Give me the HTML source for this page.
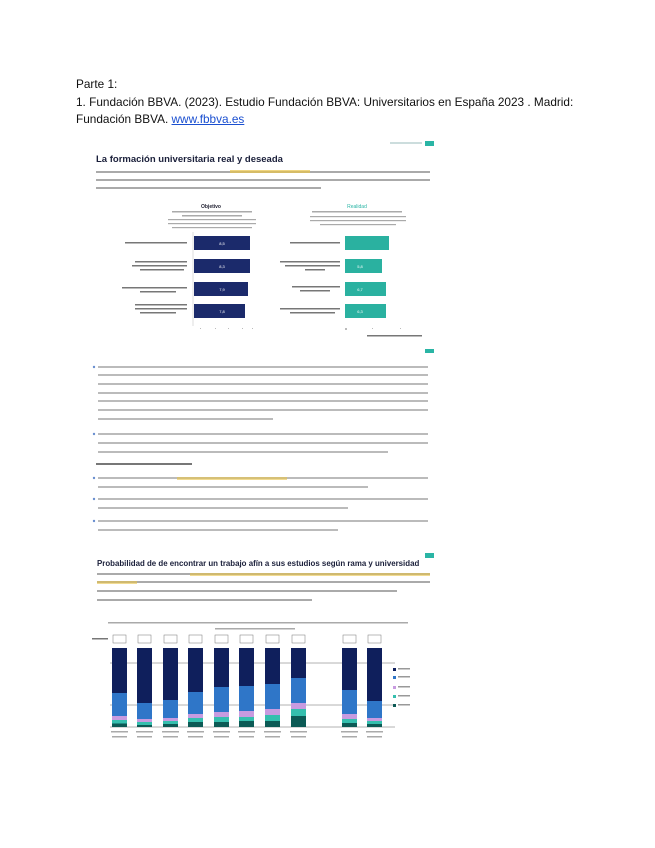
<!DOCTYPE html>
<html><head><meta charset="utf-8"><style>
body{margin:0;background:#fff;width:655px;height:848px;position:relative;overflow:hidden;font-family:"Liberation Sans",sans-serif}
.h{position:absolute;left:76px;top:76px;font-size:11.8px;line-height:17.5px;color:#111;width:570px;white-space:nowrap}
.h a{color:#1a4fd0;text-decoration:underline}
svg{position:absolute;left:0;top:0}
</style></head><body>
<div class="h">Parte 1:<br>1. Fundación BBVA. (2023). Estudio Fundación BBVA: Universitarios en España 2023 . Madrid:<br>Fundación BBVA. <a>www.fbbva.es</a></div>
<svg width="655" height="848" font-family="Liberation Sans, sans-serif">
<rect x="425" y="141" width="9" height="5" fill="#2ab5a5"/>
<rect x="390" y="142" width="32" height="2" fill="#cdd"/>
<text x="96" y="162" font-size="9.5" font-weight="bold" fill="#1a1f3a">La formación universitaria real y deseada</text>
<g fill="#aaa">
<rect x="96" y="171" width="334" height="2"/><rect x="96" y="179" width="334" height="2"/><rect x="96" y="187" width="225" height="2"/>
</g>
<rect x="230" y="170" width="80" height="3" fill="#e8c34a" opacity=".7"/>
<text x="211" y="208" font-size="5" font-weight="bold" fill="#223" text-anchor="middle">Objetivo</text>
<g fill="#aaa"><rect x="172" y="211" width="80" height="1.5"/><rect x="182" y="215" width="60" height="1.5"/><rect x="168" y="219" width="88" height="1.2"/><rect x="168" y="223" width="88" height="1.2"/><rect x="172" y="227" width="80" height="1.2"/></g>
<text x="357" y="208" font-size="5" fill="#2ab5a5" text-anchor="middle">Realidad</text>
<g fill="#aaa"><rect x="312" y="211" width="90" height="1.5"/><rect x="310" y="216" width="96" height="1.2"/><rect x="310" y="220" width="96" height="1.2"/><rect x="320" y="224" width="76" height="1.2"/></g>
<line x1="193" y1="232" x2="193" y2="326" stroke="#bbb" stroke-width=".5"/>
<g fill="#1b2a6b">
<rect x="194" y="236" width="56" height="14"/><rect x="194" y="259" width="56" height="14"/><rect x="194" y="282" width="54" height="14"/><rect x="194" y="304" width="51" height="14"/>
</g>
<g fill="#2ab1a0">
<rect x="345" y="236" width="44" height="14"/><rect x="345" y="259" width="37" height="14"/><rect x="345" y="282" width="41" height="14"/><rect x="345" y="304" width="41" height="14"/>
</g>
<g fill="#fff" font-size="4" text-anchor="middle"><text x="222" y="245">8,5</text><text x="222" y="268">8,3</text><text x="222" y="291">7,9</text><text x="222" y="313">7,8</text><text x="360" y="268">5,8</text><text x="360" y="291">6,7</text><text x="360" y="313">6,3</text></g>
<g fill="#777"><rect x="125" y="242" width="62" height="1.5"/><rect x="135" y="261" width="52" height="1.5"/><rect x="132" y="265" width="55" height="1.5"/><rect x="140" y="269" width="44" height="1.5"/><rect x="122" y="287" width="65" height="1.5"/><rect x="140" y="291" width="36" height="1.5"/><rect x="135" y="304" width="52" height="1.5"/><rect x="135" y="308" width="52" height="1.5"/><rect x="140" y="312" width="36" height="1.5"/>
<rect x="290" y="242" width="50" height="1.5"/><rect x="280" y="261" width="60" height="1.5"/><rect x="285" y="265" width="55" height="1.5"/><rect x="305" y="269" width="20" height="1.5"/><rect x="292" y="286" width="48" height="1.5"/><rect x="300" y="290" width="30" height="1.5"/><rect x="280" y="308" width="60" height="1.5"/><rect x="290" y="312" width="45" height="1.5"/></g>
<g fill="#bbb"><rect x="200" y="328" width="1" height="1"/><rect x="215" y="328" width="1" height="1"/><rect x="228" y="328" width="1" height="1"/><rect x="242" y="328" width="1" height="1"/><rect x="252" y="328" width="1" height="1"/><rect x="345" y="328" width="2" height="2"/><rect x="372" y="328" width="1" height="1"/><rect x="400" y="328" width="1" height="1"/></g>
<rect x="367" y="335" width="55" height="1.5" fill="#777"/>
<rect x="425" y="349" width="9" height="4" fill="#2ab5a5"/>
<g fill="#bbb">
<rect x="98" y="366" width="330" height="2"/><rect x="98" y="374" width="330" height="2"/><rect x="98" y="383" width="330" height="2"/><rect x="98" y="392" width="330" height="2"/><rect x="98" y="400" width="330" height="2"/><rect x="98" y="409" width="330" height="2"/><rect x="98" y="418" width="175" height="2"/>
<rect x="98" y="433" width="330" height="2"/><rect x="98" y="442" width="330" height="2"/><rect x="98" y="451" width="290" height="2"/>
<rect x="98" y="477" width="330" height="2"/><rect x="98" y="486" width="270" height="2"/>
<rect x="98" y="498" width="330" height="2"/><rect x="98" y="507" width="250" height="2"/>
<rect x="98" y="520" width="330" height="2"/><rect x="98" y="529" width="240" height="2"/>
</g>
<rect x="96" y="463" width="96" height="2" fill="#777"/>
<rect x="177" y="477" width="110" height="3" fill="#e8c34a" opacity=".6"/>
<g fill="#6a8fcf"><circle cx="94" cy="367" r="1.2"/><circle cx="94" cy="434" r="1.2"/><circle cx="94" cy="478" r="1.2"/><circle cx="94" cy="499" r="1.2"/><circle cx="94" cy="521" r="1.2"/></g>
<rect x="425" y="553" width="9" height="5" fill="#2ab5a5"/>
<text x="97" y="566" font-size="7.9" font-weight="bold" fill="#1a1f3a">Probabilidad de de encontrar un trabajo afín a sus estudios según rama y universidad</text>
<g fill="#aaa"><rect x="97" y="573" width="333" height="2"/><rect x="97" y="581" width="333" height="2"/><rect x="97" y="590" width="300" height="2"/><rect x="97" y="599" width="215" height="2"/></g>
<rect x="190" y="573" width="240" height="3" fill="#e8c34a" opacity=".6"/><rect x="97" y="581" width="40" height="3" fill="#e8c34a" opacity=".6"/>
<g fill="#aaa"><rect x="108" y="622" width="300" height="1.5"/><rect x="215" y="628" width="80" height="1.5"/></g>
<g stroke="#666" stroke-width=".5">
<line x1="110" y1="663" x2="395" y2="663"/><line x1="110" y1="705" x2="395" y2="705"/><line x1="110" y1="727" x2="395" y2="727"/>
</g>
<g id="bars"></g>
</svg>
<script>
var xs=[112,137,163,188,214,239,265,291,342,367];
var segs=[[45,23,4,3.5,3.5],[55,16,3,3,2],[52,18,3,3,3],[44,22,4,4,5],[39,25,5,5,5],[38,25,6,4,6],[36,25,6,6,6],[30,25,6,7,11],[42,24,5,4,4],[53,17,3,3,3]];
var cols=["#0f1f5c","#2f76c8","#c89be0","#35bfae","#0c5a55"];
var g=document.getElementById('bars'),s="";
xs.forEach(function(x,i){var y=648;segs[i].forEach(function(h,j){s+='<rect x="'+x+'" y="'+y+'" width="15" height="'+h+'" fill="'+cols[j]+'"/>';y+=h;});
s+='<rect x="'+(x+1)+'" y="635" width="13" height="8" fill="none" stroke="#777" stroke-width=".5"/>';
s+='<rect x="'+(x-1)+'" y="731" width="17" height="1.5" fill="#aaa"/><rect x="'+x+'" y="736" width="15" height="1.5" fill="#aaa"/>';});
[[393,668],[393,676],[393,686],[393,695],[393,704]].forEach(function(p,i){s+='<rect x="'+p[0]+'" y="'+p[1]+'" width="3" height="3" fill="'+cols[i]+'"/><rect x="'+(p[0]+5)+'" y="'+p[1]+'" width="12" height="1.5" fill="#999"/>';});
s+='<rect x="92" y="638" width="16" height="1.5" fill="#777"/>';
g.innerHTML=s;
</script>
</body></html>
